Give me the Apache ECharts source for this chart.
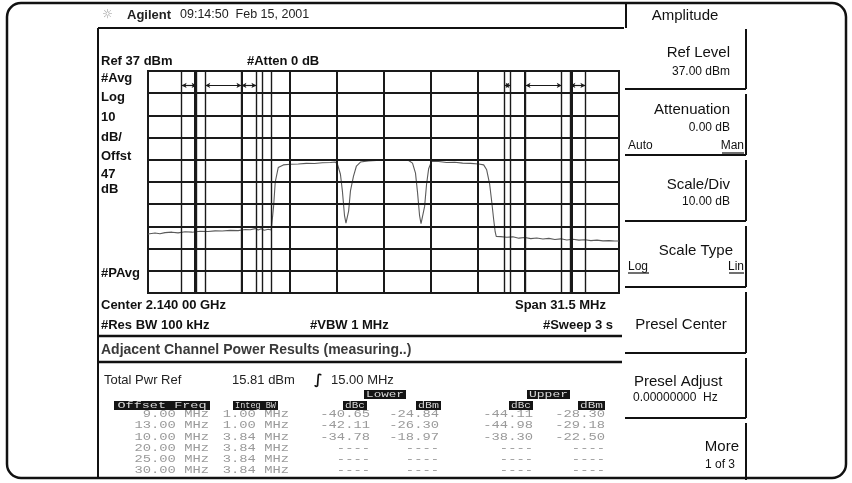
<!DOCTYPE html>
<html><head><meta charset="utf-8">
<script src="https://cdn.jsdelivr.net/npm/echarts@6/dist/echarts.min.js"></script>
<style>html,body{margin:0;padding:0;background:#fff}#c{width:852px;height:483px}</style>
</head><body><div id="c"></div>
<script>
// ---- data ----
const freqOffsets = [-15.75,-15.28,-14.95,-14.61,-14.14,-13.74,-13.27,-12.80,-12.26,-11.73,-11.26,-10.79,-10.25,-9.72,-9.25,-8.91,-8.58,-8.38,-8.18,-7.98,-7.71,-7.51,-7.44,-7.35,-7.24,-7.04,-6.70,-6.23,-5.70,-5.16,-4.62,-4.09,-3.55,-3.22,-3.08,-2.88,-2.75,-2.61,-2.51,-2.41,-2.33,-2.21,-2.01,-1.81,-1.54,-1.01,-0.47,0.07,0.60,1.14,1.68,1.94,2.14,2.28,2.41,2.51,2.61,2.75,2.88,3.02,3.22,3.69,4.22,4.76,5.29,5.83,6.37,6.70,6.90,7.10,7.24,7.37,7.47,7.54,7.84,8.24,8.65,9.05,9.45,9.85,10.25,10.66,11.06,11.46,11.86,12.26,12.67,13.07,13.47,13.87,14.28,14.68,15.08,15.48,15.75];
const traceLevels = [-36.4,-36.0,-36.3,-35.8,-35.6,-35.9,-35.4,-35.6,-35.2,-35.3,-35.0,-35.1,-34.8,-34.9,-34.4,-34.5,-34.0,-34.6,-34.1,-34.7,-34.3,-34.6,-30,-24,-13,-6.5,-5.3,-5.0,-4.9,-4.6,-4.7,-4.3,-4.2,-4.0,-5.0,-9.5,-17,-28,-31.5,-32.4,-26.0,-17.0,-10.5,-5.8,-4.0,-3.5,-3.3,-3.1,-3.2,-3.0,-3.3,-4.5,-9,-18,-28,-31.8,-31.5,-24,-14,-7,-3.6,-3.8,-4.2,-4.1,-4.5,-4.6,-4.9,-5.3,-7.5,-14,-22,-30,-35.5,-37.5,-37.6,-37.9,-37.7,-38.3,-38.0,-38.5,-38.2,-38.7,-38.4,-38.9,-38.6,-39.1,-38.8,-39.2,-39.0,-39.4,-39.2,-39.5,-39.4,-39.6,-39.6];
const gridFreqs = [-12.6,-9.45,-6.3,-3.15,0,3.15,6.3,9.45,12.6];
const gridLevels = [27,17,7,-3,-13,-23,-33,-43,-53];
const edgeFreqs = [-13.5,-12.5,-11.92,-9.5,-8.5,-8.08,-7.5,8.08,8.5,9.5,11.92,12.5,13.5];
const bandSegments = [[-13.5,-12.5],[-11.92,-9.5],[-9.5,-8.5],[8.08,8.5],[9.5,11.92],[12.5,13.5]];
const markerLevel = 30.5;
const offsetFreqs = ['9.00 MHz','13.00 MHz','10.00 MHz','20.00 MHz','25.00 MHz','30.00 MHz'];
const integBW = ['1.00 MHz','1.00 MHz','3.84 MHz','3.84 MHz','3.84 MHz','3.84 MHz'];
const lowerDbc = ['-40.65','-42.11','-34.78','----','----','----'];
const lowerDbm = ['-24.84','-26.30','-18.97','----','----','----'];
const upperDbc = ['-44.11','-44.98','-38.30','----','----','----'];
const upperDbm = ['-28.30','-29.18','-22.50','----','----','----'];
const leftLabels = ['#Avg','Log','10','dB/','Offst','47','dB','#PAvg'];
const softkeyTitles = ['Ref Level','Attenuation','Scale/Div','Scale Type','Presel Center','Presel Adjust','More'];
const softkeyValues = ['37.00 dBm','0.00 dB','10.00 dB','','','0.00000000  Hz','1 of 3'];

// ---- layout helpers ----
const SANS = 'Liberation Sans, Arial, sans-serif';
const MONO = 'Liberation Mono, DejaVu Sans Mono, monospace';
const g = [];
function T(x,y,text,font,fill,align,sx){
  g.push({type:'text',silent:true,z:10,x:x,y:y,scaleX:sx||1,style:{x:0,y:0,text:text,font:font,fill:fill||'#111',
    textAlign:align||'left',align:align||'left',textVerticalAlign:'middle',verticalAlign:'middle'}});
}
function L(x1,y1,x2,y2,w,c){
  g.push({type:'line',silent:true,z:9,shape:{x1:x1,y1:y1,x2:x2,y2:y2},style:{stroke:c||'#111',lineWidth:w||1}});
}
function R(x,y,w,h,fill){
  g.push({type:'rect',silent:true,z:9,shape:{x:x,y:y,width:w,height:h},style:{fill:fill}});
}
// outer frame
g.push({type:'rect',silent:true,z:8,shape:{x:7,y:3,width:839,height:475,r:14},style:{fill:'none',stroke:'#111',lineWidth:2.5}});
// title
T(102,15,'\u263C','12px DejaVu Sans','#999');
T(127,15,'Agilent','bold 13px '+SANS,'#222');
T(180,15,'09:14:50  Feb 15, 2001','12.5px '+SANS,'#222');
// main screen border
L(98,28,624,28,2);
L(98,28,98,478,2);
L(626,3,626,28,2);
T(685,16,'Amplitude','15px '+SANS,'#111','center');
// header texts
const B13 = 'bold 13px '+SANS;
T(101,61,'Ref 37 dBm',B13);
T(247,61,'#Atten 0 dB',B13);
const leftY = [78,97,117,137,156,174,189,273];
leftLabels.forEach((s,i)=>T(101,leftY[i],s,B13));
T(101,305,'Center 2.140 00 GHz',B13);
T(606,305,'Span 31.5 MHz',B13,'#111','right');
T(101,325,'#Res BW 100 kHz',B13);
T(310,325,'#VBW 1 MHz',B13);
T(613,325,'#Sweep 3 s',B13,'#111','right');
L(98,336,622,336,2.5);
T(101,350,'Adjacent Channel Power Results (measuring..)','bold 14px '+SANS,'#3a3a3a');
L(98,362,622,362,2.5);
T(104,380,'Total Pwr Ref','13px '+SANS,'#222');
T(232,380,'15.81 dBm','13px '+SANS,'#222');
T(314,380,'\u222B','bold 14px DejaVu Sans','#111');
T(331,380,'15.00 MHz','13px '+SANS,'#222');
// table header boxes
function box(x1,x2,y1,y2,text){
  R(x1,y1,x2-x1,y2-y1,'#141414');
  const sx = Math.min(1.5,(x2-x1-4)/(text.length*5.42));
  T((x1+x2)/2,(y1+y2)/2+0.5,text,'9px '+MONO,'#d8d8d8','center',sx);
}
box(364,406,390,399,'Lower');
box(527,570,390,399,'Upper');
box(114,210,401,410,'Offset Freq');
box(233,278,401,410,'Integ BW');
box(343,367,401,410,'dBc');
box(416,441,401,410,'dBm');
box(509,533,401,410,'dBc');
box(578,605,401,410,'dBm');
const rowFont = '10px '+MONO, rowCol = '#9a9a9a', rsx = 1.38;
for(let i=0;i<offsetFreqs.length;i++){
  const y = 414.5 + 11.2*i;
  T(209,y,offsetFreqs[i],rowFont,rowCol,'right',rsx);
  T(289,y,integBW[i],rowFont,rowCol,'right',rsx);
  T(370,y,lowerDbc[i],rowFont,rowCol,'right',rsx);
  T(439,y,lowerDbm[i],rowFont,rowCol,'right',rsx);
  T(533,y,upperDbc[i],rowFont,rowCol,'right',rsx);
  T(605,y,upperDbm[i],rowFont,rowCol,'right',rsx);
}
// softkeys
const keyTop = [29,94,160,226,292,358,423];
const keyBot = [89,155,221,287,353,418,480];
for(let i=0;i<7;i++){
  L(746,keyTop[i],746,keyBot[i],2);
  if(i<6) L(625,keyBot[i],746,keyBot[i],2);
}
const K15 = '15px '+SANS, K12 = '12px '+SANS;
T(730,53,softkeyTitles[0],K15,'#111','right');
T(730,72,softkeyValues[0],K12,'#111','right');
T(730,110,softkeyTitles[1],K15,'#111','right');
T(730,128,softkeyValues[1],K12,'#111','right');
T(628,146,'Auto',K12,'#111','left');
T(744,146,'Man',K12,'#111','right');
L(722,153,744,153,1.2);
T(730,185,softkeyTitles[2],K15,'#111','right');
T(730,202,softkeyValues[2],K12,'#111','right');
T(733,251,softkeyTitles[3],K15,'#111','right');
T(628,267,'Log',K12,'#111','left');
L(628,273,649,273,1.2);
T(744,267,'Lin',K12,'#111','right');
L(729,273,744,273,1.2);
T(681,325,softkeyTitles[4],K15,'#111','center');
T(634,382,softkeyTitles[5],K15,'#111','left');
T(633,398,softkeyValues[5],K12,'#111','left');
T(739,447,softkeyTitles[6],K15,'#111','right');
T(735,465,softkeyValues[6],K12,'#111','right');

// ---- chart ----
const chart = echarts.init(document.getElementById('c'),null,{renderer:'canvas'});
const mlBase = {silent:true,symbol:'none',label:{show:false},animation:false};
chart.setOption({
  animation:false,
  grid:{left:148,top:71,width:471,height:222,show:true,borderColor:'#1a1a1a',borderWidth:2,backgroundColor:'#fff'},
  xAxis:{type:'value',min:-15.75,max:15.75,show:false},
  yAxis:{type:'value',min:-63,max:37,show:false},
  graphic:g,
  series:[
    {type:'line',data:[],z:2,
      markLine:Object.assign({},mlBase,{lineStyle:{color:'#1a1a1a',width:2,type:'solid'},
        data:gridFreqs.map(v=>({xAxis:v})).concat(gridLevels.map(v=>({yAxis:v})))})},
    {type:'line',data:[],z:2,
      markLine:Object.assign({},mlBase,{lineStyle:{color:'#1a1a1a',width:1.4,type:'solid'},
        data:edgeFreqs.map(v=>({xAxis:v}))})},
    {type:'line',data:[],z:3,
      markLine:Object.assign({},mlBase,{symbol:['arrow','arrow'],symbolSize:[4,5],lineStyle:{color:'#1a1a1a',width:1.2,type:'solid'},
        data:bandSegments.map(s=>[{coord:[s[0],markerLevel]},{coord:[s[1],markerLevel]}])})},
    {type:'line',data:freqOffsets.map((f,i)=>[f,traceLevels[i]]),symbol:'none',z:4,
      lineStyle:{color:'#5a5a5a',width:1.1},itemStyle:{color:'#5a5a5a'}}
  ]
});
</script></body></html>
